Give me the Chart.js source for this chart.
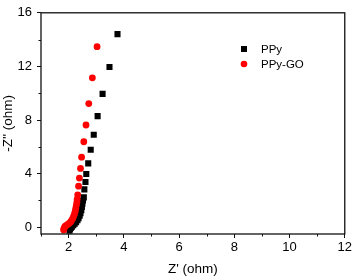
<!DOCTYPE html>
<html>
<head>
<meta charset="utf-8">
<script src="https://cdn.jsdelivr.net/npm/chart.js@4.4.1/dist/chart.umd.min.js"></script>
<style>
  html, body { margin: 0; padding: 0; background: #fff; }
  #wrap { width: 354px; height: 277px; }
</style>
</head>
<body>
<div id="wrap"><canvas id="nyquist"></canvas></div>
<script>
// Z' and -Z'' (ohm)
const ppyX = [2.03, 2.05, 2.08, 2.12, 2.17, 2.22, 2.27, 2.32, 2.36, 2.40, 2.43, 2.46, 2.48, 2.50, 2.52, 2.55, 2.57, 2.61, 2.64, 2.71, 2.80, 2.91, 3.05, 3.23, 3.48, 3.77];
const ppyY = [-0.25, -0.15, -0.05, 0.05, 0.15, 0.26, 0.38, 0.52, 0.68, 0.86, 1.06, 1.28, 1.52, 1.76, 2.0, 2.23, 2.83, 3.38, 3.98, 4.77, 5.78, 6.9, 8.29, 9.95, 11.96, 14.41];
const goX = [1.82, 1.83, 1.85, 1.88, 1.92, 1.97, 2.02, 2.07, 2.11, 2.15, 2.18, 2.21, 2.24, 2.26, 2.28, 2.30, 2.31, 2.33, 2.36, 2.39, 2.43, 2.47, 2.55, 2.63, 2.73, 2.86, 3.03];
const goY = [-0.2, -0.1, 0.0, 0.08, 0.15, 0.22, 0.3, 0.4, 0.52, 0.66, 0.82, 1.0, 1.2, 1.42, 1.64, 1.87, 2.1, 2.42, 3.07, 3.67, 4.39, 5.23, 6.38, 7.63, 9.23, 11.15, 13.47];

const xMajor = [2, 4, 6, 8, 10, 12];
const xMinor = [1, 3, 5, 7, 9, 11];
const yMajor = [0, 4, 8, 12, 16];
const yMinor = [2, 6, 10, 14];

const FONT = "'Liberation Sans', Arial, sans-serif";

function toPoints(xs, ys) {
  return xs.map((x, i) => ({ x: x, y: ys[i] }));
}

// box around the plot + short minor ticks
const framePlugin = {
  id: "frame",
  afterDatasetsDraw(chart) {
    const { ctx, chartArea: a, scales } = chart;
    ctx.save();
    ctx.strokeStyle = "#111";
    ctx.lineWidth = 1.3;
    ctx.strokeRect(a.left, a.top, a.right - a.left, a.bottom - a.top);
    ctx.lineWidth = 1;
    ctx.beginPath();
    xMinor.forEach((v) => {
      const px = Math.round(scales.x.getPixelForValue(v)) + 0.5;
      ctx.moveTo(px, a.bottom);
      ctx.lineTo(px, a.bottom + 2.5);
    });
    yMinor.forEach((v) => {
      const py = Math.round(scales.y.getPixelForValue(v)) + 0.5;
      ctx.moveTo(a.left, py);
      ctx.lineTo(a.left - 2.5, py);
    });
    ctx.stroke();
    ctx.restore();
  }
};

// legend inside the plot, upper right
const legendPlugin = {
  id: "insideLegend",
  afterDraw(chart) {
    const { ctx } = chart;
    const x0 = 244, y0 = 49, gap = 15;
    ctx.save();
    ctx.font = "11.5px " + FONT;
    ctx.textBaseline = "middle";
    chart.data.datasets.forEach((ds, i) => {
      const y = y0 + i * gap;
      ctx.fillStyle = ds.backgroundColor;
      ctx.beginPath();
      if (ds.pointStyle === "rect") {
        ctx.rect(x0 - 3, y - 3, 6, 6);
      } else {
        ctx.arc(x0, y, 3.3, 0, Math.PI * 2);
      }
      ctx.fill();
      ctx.fillStyle = "#000";
      ctx.fillText(ds.label, x0 + 17, y + 0.5);
    });
    ctx.restore();
  }
};

new Chart(document.getElementById("nyquist"), {
  type: "scatter",
  data: {
    datasets: [
      {
        label: "PPy",
        data: toPoints(ppyX, ppyY),
        pointStyle: "rect",
        pointRadius: 4.3,
        backgroundColor: "#000",
        borderWidth: 0,
        order: 2
      },
      {
        label: "PPy-GO",
        data: toPoints(goX, goY),
        pointStyle: "circle",
        pointRadius: 3.4,
        backgroundColor: "#ff0000",
        borderWidth: 0,
        order: 1
      }
    ]
  },
  options: {
    responsive: true,
    maintainAspectRatio: false,
    animation: false,
    layout: { padding: { top: 5, right: 7, left: 0, bottom: 0 } },
    plugins: {
      legend: { display: false },
      tooltip: { enabled: false }
    },
    scales: {
      x: {
        type: "linear",
        min: 1,
        max: 12,
        afterBuildTicks: (s) => { s.ticks = xMajor.map((v) => ({ value: v })); },
        afterFit: (s) => { s.height = 43; },
        border: { display: false },
        grid: { drawOnChartArea: false, drawTicks: true, tickLength: 4, tickColor: "#111", tickWidth: 1 },
        ticks: { color: "#000", font: { family: FONT, size: 13 }, padding: 2, maxRotation: 0 },
        title: { display: true, text: "Z' (ohm)", color: "#000", font: { family: FONT, size: 13.5 }, padding: 0 }
      },
      y: {
        type: "linear",
        min: -0.5,
        max: 16,
        afterBuildTicks: (s) => { s.ticks = yMajor.map((v) => ({ value: v })); },
        afterFit: (s) => { s.width = 41; },
        border: { display: false },
        grid: { drawOnChartArea: false, drawTicks: true, tickLength: 4, tickColor: "#111", tickWidth: 1 },
        ticks: { color: "#000", font: { family: FONT, size: 13 }, padding: 5 },
        title: { display: true, text: "-Z'' (ohm)", color: "#000", font: { family: FONT, size: 13.5 }, padding: 0 }
      }
    }
  },
  plugins: [framePlugin, legendPlugin]
});
</script>
</body>
</html>
